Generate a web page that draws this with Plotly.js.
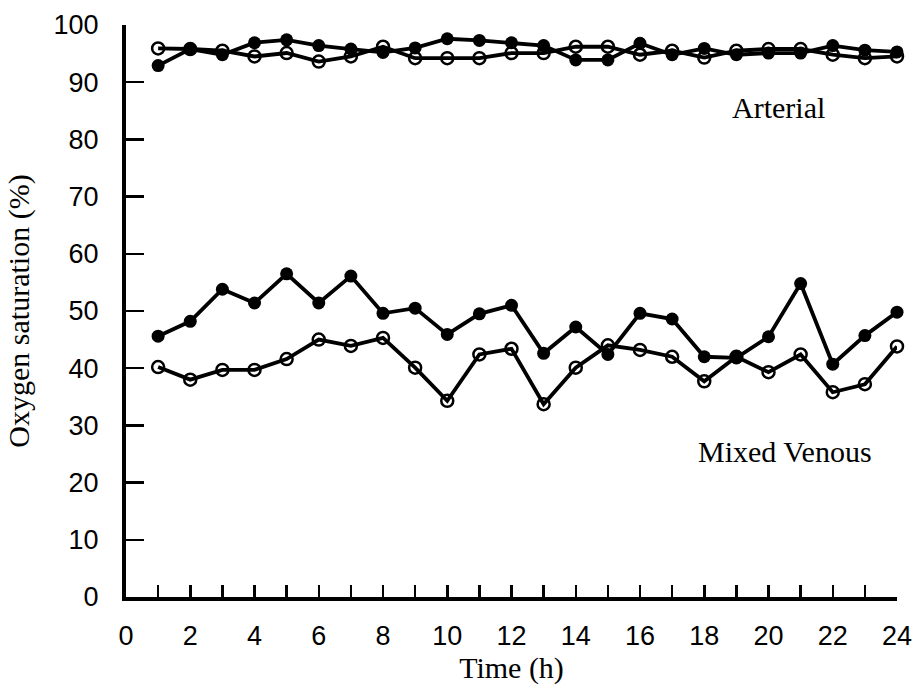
<!DOCTYPE html>
<html>
<head>
<meta charset="utf-8">
<script src="https://cdn.plot.ly/plotly-3.0.1.min.js"></script>
<style>html,body{margin:0;padding:0;background:#fff;}#chart{width:918px;height:689px;}</style>
</head>
<body>
<div id="chart"></div>
<script>
const hours = [1,2,3,4,5,6,7,8,9,10,11,12,13,14,15,16,17,18,19,20,21,22,23,24];
const arterialFilled = [92.9,95.8,94.8,96.9,97.4,96.4,95.8,95.2,96.0,97.6,97.3,96.9,96.4,93.9,93.9,96.8,94.8,95.9,94.8,95.1,95.1,96.4,95.6,95.3];
const arterialOpen   = [95.9,95.8,95.5,94.5,95.1,93.6,94.5,96.2,94.2,94.2,94.2,95.1,95.1,96.2,96.2,94.8,95.5,94.3,95.5,95.8,95.8,94.8,94.2,94.5];
const venousFilled   = [45.6,48.2,53.8,51.4,56.5,51.4,56.1,49.6,50.5,45.9,49.5,51.0,42.6,47.2,42.4,49.6,48.6,42.0,41.8,45.5,54.8,40.7,45.7,49.8];
const venousOpen     = [40.2,38.0,39.7,39.7,41.6,45.0,43.9,45.3,40.1,34.3,42.4,43.4,33.7,40.1,44.0,43.2,42.0,37.7,42.0,39.3,42.4,35.8,37.2,43.8];
const xTickVals = [0,1,2,3,4,5,6,7,8,9,10,11,12,13,14,15,16,17,18,19,20,21,22,23,24];
const xTickText = ['0','','2','','4','','6','','8','','10','','12','','14','','16','','18','','20','','22','','24'];
const yTickVals = [0,10,20,30,40,50,60,70,80,90,100];
const labels = {x: 'Time (h)', y: 'Oxygen saturation (%)', arterial: 'Arterial', venous: 'Mixed Venous'};

const lineStyle = {color: '#000', width: 3.8};
const filledMarker = {symbol: 'circle', size: 13, color: '#000'};
const openMarker = {symbol: 'circle-open', size: 12, color: '#000', line: {color: '#000', width: 2.5}};

function trace(y, marker) {
  return {x: hours, y: y, mode: 'lines+markers', line: lineStyle, marker: marker, cliponaxis: false, showlegend: false, hoverinfo: 'skip'};
}

const data = [
  trace(arterialOpen, openMarker),
  trace(arterialFilled, filledMarker),
  trace(venousOpen, openMarker),
  trace(venousFilled, filledMarker)
];

const tickFont = {family: 'Liberation Sans, Arial, sans-serif', size: 27, color: '#000'};
const titleFont = {family: 'Liberation Serif, Times New Roman, serif', size: 30, color: '#000'};

const layout = {
  width: 918, height: 689,
  margin: {l: 126, r: 21, t: 25, b: 92},
  paper_bgcolor: '#fff', plot_bgcolor: '#fff',
  xaxis: {
    range: [0, 24], tickmode: 'array', tickvals: xTickVals, ticktext: xTickText,
    ticks: 'inside', ticklen: 12, tickwidth: 2.5, tickcolor: '#000',
    showline: true, linewidth: 4, linecolor: '#000', showgrid: false, zeroline: false,
    tickfont: tickFont, ticklabelstandoff: 12,
    title: {text: labels.x, font: titleFont, standoff: 2}
  },
  yaxis: {
    range: [0, 100], tickmode: 'array', tickvals: yTickVals,
    ticks: 'inside', ticklen: 18, tickwidth: 2.5, tickcolor: '#000',
    showline: true, linewidth: 4, linecolor: '#000', showgrid: false, zeroline: false,
    tickfont: tickFont, ticklabelstandoff: 18,
    title: {text: labels.y, font: titleFont, standoff: 16}
  },
  annotations: [
    {x: 20.3, y: 85.6, xref: 'x', yref: 'y', text: labels.arterial, showarrow: false, font: titleFont},
    {x: 20.5, y: 25.5, xref: 'x', yref: 'y', text: labels.venous, showarrow: false, font: titleFont}
  ]
};

Plotly.newPlot('chart', data, layout, {displayModeBar: false, staticPlot: true});
</script>
</body>
</html>
